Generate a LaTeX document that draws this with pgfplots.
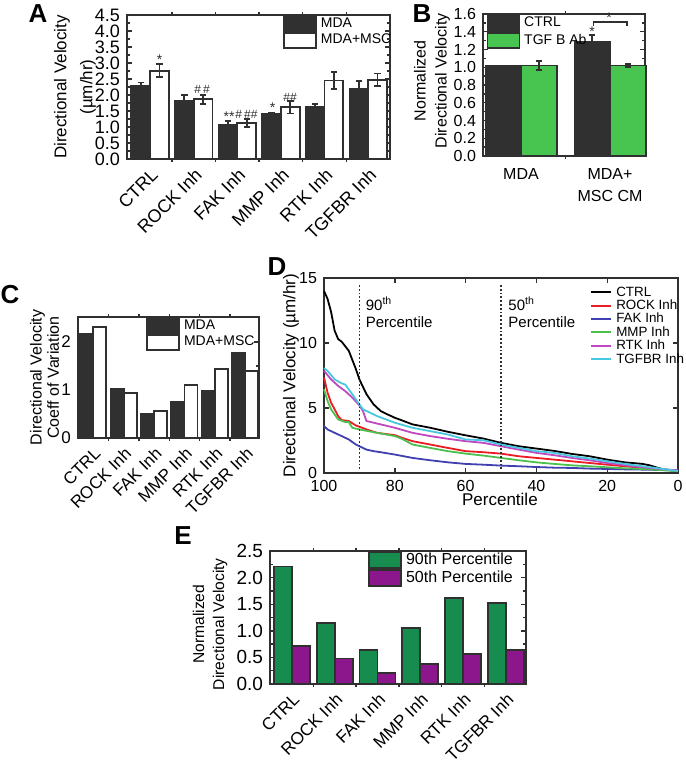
\documentclass[border=0pt]{standalone}
\usepackage{pgfplots}
\pgfplotsset{compat=1.18}
\usepackage{fontspec}
\setmainfont{Liberation Sans}
\newcommand{\fs}[1]{\fontsize{#1}{#1}\selectfont}
\newcommand{\fsl}[2]{\fontsize{#1}{#2}\selectfont}
\definecolor{dk}{RGB}{48,48,48}
\definecolor{bgreen}{RGB}{72,196,80}
\definecolor{egreen}{RGB}{22,140,78}
\definecolor{epurple}{RGB}{140,22,140}
\definecolor{rockred}{RGB}{236,28,36}
\definecolor{cblue}{RGB}{64,64,176}
\definecolor{cgreen}{RGB}{76,192,76}
\definecolor{cmag}{RGB}{192,72,192}
\definecolor{ccyan}{RGB}{72,200,224}
\pgfplotsset{
  base/.style={scale only axis, axis line style={line width=0.9pt, draw=dk},
    tick style={dk, line width=0.7pt}, major tick length=2.5pt, minor tick length=1.5pt,
    /pgf/number format/assume math mode=true, tick align=inside, clip=false},
  bars/.style={base, ybar, major x tick style=transparent, xtick={0,...,5},
    minor xtick={0.5,1.5,2.5,3.5,4.5},
    xticklabel style={rotate=45, anchor=north east, inner sep=1pt}},
  barleg/.style={legend image code/.code={\draw[##1] (0pt,-#1) rectangle (16pt,#1);}},
  onedec/.style={yticklabel style={/pgf/number format/fixed, /pgf/number format/fixed zerofill, /pgf/number format/precision=1}},
  ebar/.style={error bars/y dir=both, error bars/y explicit,
    error bars/error bar style={line width=0.9pt, draw=dk},
    error bars/error mark options={rotate=90, mark size=1.6pt, line width=0.9pt, draw=dk}},
}
\begin{document}
\begin{tikzpicture}
\path[use as bounding box] (0pt,0pt) rectangle (342.5pt,-382.5pt);
% panel labels
\node[font=\bfseries\fs{13}] at (19pt,-7pt) {A};
\node[font=\bfseries\fs{13}] at (211pt,-6.75pt) {B};
\node[font=\bfseries\fs{13}] at (5pt,-147.5pt) {C};
\node[font=\bfseries\fs{13}] at (138.5pt,-133.5pt) {D};
\node[font=\bfseries\fs{13}] at (91.5pt,-268pt) {E};

% ---------------- A
\begin{axis}[bars, onedec, at={(63.5pt,-79.5pt)}, anchor=south west,
  width=131.5pt, height=72pt, xmin=-0.53, xmax=5.5, ymin=0, ymax=4.5,
  ytick distance=0.5, minor y tick num=1,
  xticklabels={CTRL,ROCK Inh,FAK Inh,MMP Inh,RTK Inh,TGFBR Inh},
  tick label style={font=\fs{9}},
  ylabel={Directional Velocity\\(µm/hr)},
  ylabel style={at={(axis description cs:-0.198,0.5)}, anchor=center, align=center, font=\fsl{8.5}{13}},
  legend style={draw=none, fill=none, at={(axis description cs:0.593,1)}, anchor=north west,
    inner sep=0pt, row sep=0pt, column sep=1.5pt, nodes={inner sep=0.4pt, font=\fs{7}}},
  legend cell align=left]
\addplot[fill=dk, draw=dk, line width=0.9pt, bar width=0.43, bar shift=-0.215, barleg=3.75pt, ebar]
  coordinates {(0,2.29) +- (0,0.10) (1,1.81) +- (0,0.19) (2,1.08) +- (0,0.10) (3,1.40) +- (0,0.05) (4,1.63) +- (0,0.10) (5,2.18) +- (0,0.26)};
\addplot[fill=white, draw=dk, line width=0.9pt, bar width=0.43, bar shift=0.215, barleg=3.75pt, ebar]
  coordinates {(0,2.76) +- (0,0.20) (1,1.87) +- (0,0.14) (2,1.13) +- (0,0.13) (3,1.62) +- (0,0.20) (4,2.45) +- (0,0.27) (5,2.47) +- (0,0.20)};
\legend{MDA, MDA+MSC}
\node[font=\fs{7}, dk] at (axis cs:0.215,3.09) {*};
\node[font=\fs{6}, dk] at (axis cs:1.19,2.16) {\#\,\#};
\node[font=\fs{7}, dk] at (axis cs:1.81,1.31) {**};
\node[font=\fs{6}, dk] at (axis cs:2.21,1.40) {\#\,\#\#};
\node[font=\fs{7}, dk] at (axis cs:2.81,1.59) {*};
\node[font=\fs{6}, dk] at (axis cs:3.21,1.94) {\#\#};
\end{axis}

% ---------------- B
\begin{axis}[base, ybar, onedec, at={(241.5pt,-78pt)}, anchor=south west,
  width=81pt, height=71pt, xmin=-0.427, xmax=1.393, ymin=0, ymax=1.6,
  ytick distance=0.2, minor y tick num=1,
  major x tick style=transparent, xtick={0,1}, minor xtick={0.5},
  xticklabels={MDA,{MDA+\\MSC CM}},
  xticklabel style={align=center, font=\fsl{8}{11}},
  yticklabel style={font=\fs{8}},
  ylabel={Normalized\\Directional Velocity},
  ylabel style={at={(axis description cs:-0.315,0.53)}, anchor=center, align=center, font=\fsl{8}{10.5}},
  legend style={draw=none, fill=none, at={(axis description cs:0.02,1)}, anchor=north west,
    inner sep=0pt, row sep=0pt, column sep=1.5pt, nodes={inner sep=0.4pt, font=\fs{7}}},
  legend cell align=left]
\addplot[fill=dk, draw=dk, line width=0.9pt, bar width=0.40, bar shift=-0.2, barleg=3.9pt, ebar]
  coordinates {(0,1.01) +- (0,0.01) (1,1.28) +- (0,0.08)};
\addplot[fill=bgreen, draw=dk, line width=0.9pt, bar width=0.40, bar shift=0.2, barleg=3.9pt, ebar]
  coordinates {(0,1.02) +- (0,0.05) (1,1.02) +- (0,0.02)};
\legend{CTRL, TGF B Ab}
\draw[dk, line width=0.6pt] (axis cs:0.81,1.46) -- (axis cs:0.81,1.51) -- (axis cs:1.19,1.51) -- (axis cs:1.19,1.46);
\node[font=\fs{7}, dk] at (axis cs:0.99,1.56) {*};
\node[font=\fs{7}, dk] at (axis cs:0.80,1.40) {*};
\end{axis}

% ---------------- C
\begin{axis}[bars, at={(39pt,-219pt)}, anchor=south west,
  width=90.5pt, height=60.5pt, xmin=-0.5, xmax=5.45, ymin=0, ymax=2.52,
  ytick={0,1,2}, minor y tick num=1,
  xticklabels={CTRL,ROCK Inh,FAK Inh,MMP Inh,RTK Inh,TGFBR Inh},
  tick label style={font=\fs{8.5}},
  ylabel={Directional Velocity\\Coeff of Variation},
  ylabel style={at={(axis description cs:-0.185,0.5)}, anchor=center, align=center, font=\fsl{8}{8.7}},
  legend style={draw=none, fill=none, at={(axis description cs:0.376,1)}, anchor=north west,
    inner sep=0pt, row sep=0pt, column sep=1.5pt, nodes={inner sep=0.4pt, font=\fs{7}}},
  legend cell align=left]
\addplot[fill=dk, draw=dk, line width=0.9pt, bar width=0.43, bar shift=-0.215, barleg=3.75pt]
  coordinates {(0,2.16) (1,1.02) (2,0.50) (3,0.76) (4,0.98) (5,1.77)};
\addplot[fill=white, draw=dk, line width=0.9pt, bar width=0.43, bar shift=0.215, barleg=3.75pt]
  coordinates {(0,2.32) (1,0.93) (2,0.57) (3,1.10) (4,1.43) (5,1.39)};
\legend{MDA, MDA+MSC}
\end{axis}

% ---------------- D
\begin{axis}[base, at={(162pt,-236.5pt)}, anchor=south west,
  width=177pt, height=97.5pt, x dir=reverse, xmin=0, xmax=100, ymin=0, ymax=15,
  xtick={0,20,40,60,80,100}, ytick={0,5,10,15},
  tick label style={font=\fs{8}},
  xlabel={Percentile}, xlabel style={at={(axis description cs:0.497,-0.138)}, anchor=center, font=\fs{8.5}},
  ylabel={Directional Velocity (µm/hr)},
  ylabel style={at={(axis description cs:-0.093,0.5)}, anchor=center, font=\fs{8.5}},
  legend style={draw=none, fill=none, at={(axis description cs:0.751,0.964)}, anchor=north west,
    inner sep=0pt, row sep=0pt, column sep=1.5pt,
    nodes={inner sep=0.5pt, font=\fs{6.7}, text height=4.8pt, text depth=0.9pt}},
  legend cell align=left,
  legend image code/.code={\draw[#1, line width=1pt] (0pt,0pt) -- (10pt,0pt);},
  every axis plot/.append style={line width=0.9pt, mark=none}]
\addplot[draw=black] coordinates {(100,14.0)(99,13.4)(98,12.4)(97,10.95)(96,10.3)(95,10.1)(93,9.4)(91,8.0)(90,7.2)(88,6.06)(86,5.28)(84,4.77)(82,4.5)(80,4.25)(78,4.05)(75,3.74)(70,3.48)(65,3.17)(60,2.9)(55,2.65)(50,2.32)(45,2.06)(40,1.88)(35,1.7)(30,1.47)(25,1.29)(20,1.03)(15,0.82)(10,0.70)(8,0.59)(5,0.34)(2,0.2)(0,0.15)};
\addplot[draw=rockred, color=rockred] coordinates {(100,7.35)(99,6.19)(98,5.41)(97,4.9)(96,4.38)(95,4.07)(93,4.0)(91,3.66)(90,3.56)(88,3.35)(85,3.09)(80,2.91)(78,2.71)(75,2.45)(70,2.19)(65,1.93)(60,1.68)(55,1.6)(50,1.49)(45,1.29)(40,1.16)(35,1.03)(30,0.9)(25,0.77)(20,0.64)(15,0.52)(10,0.39)(5,0.26)(0,0.18)};
\addplot[draw=cblue] coordinates {(100,3.61)(99,3.35)(97,3.09)(95,2.84)(93,2.58)(91,2.19)(90,2.06)(88,1.8)(86,1.68)(84,1.6)(80,1.42)(75,1.16)(70,0.98)(65,0.82)(60,0.70)(55,0.64)(50,0.57)(45,0.52)(40,0.46)(35,0.41)(30,0.39)(25,0.34)(20,0.31)(15,0.28)(10,0.26)(5,0.23)(0,0.2)};
\addplot[draw=cgreen] coordinates {(100,6.44)(99,5.54)(98,4.9)(96,4.12)(94,3.92)(93,3.92)(92,3.48)(90,3.35)(85,3.09)(80,2.84)(78,2.63)(75,2.19)(70,1.93)(65,1.68)(60,1.49)(55,1.34)(50,1.16)(45,0.98)(40,0.82)(35,0.70)(30,0.59)(25,0.52)(20,0.44)(15,0.36)(10,0.31)(5,0.23)(0,0.15)};
\addplot[draw=cmag] coordinates {(100,7.86)(98,7.2)(96,6.7)(94,6.3)(92,5.8)(90,5.2)(89,4.77)(88,4.0)(86,3.87)(84,3.74)(80,3.48)(75,3.09)(70,2.84)(65,2.63)(60,2.45)(55,2.32)(50,2.06)(45,1.80)(40,1.55)(35,1.37)(30,1.16)(25,0.98)(20,0.77)(15,0.59)(10,0.44)(5,0.31)(0,0.2)};
\addplot[draw=ccyan] coordinates {(100,8.07)(99,7.86)(97,7.2)(95,6.9)(94,6.8)(92,6.06)(90,5.28)(89,4.9)(87,4.64)(85,4.38)(82,4.07)(80,3.87)(75,3.48)(70,3.22)(65,2.96)(60,2.58)(55,2.52)(50,2.19)(45,1.93)(40,1.68)(35,1.55)(30,1.29)(25,1.11)(20,0.9)(15,0.7)(10,0.52)(5,0.34)(0,0.15)};
\legend{CTRL, ROCK Inh, FAK Inh, MMP Inh, RTK Inh, TGFBR Inh}
\addplot[draw=dk, densely dotted, line width=0.7pt, forget plot] coordinates {(90,0.3) (90,14.6)};
\addplot[draw=dk, densely dotted, line width=0.7pt, forget plot] coordinates {(50,0.3) (50,14.6)};
\node[anchor=north west, align=left, inner sep=0pt, font=\fsl{7.5}{8.5}] at (axis cs:88.3,13.6) {90\textsuperscript{th}\\Percentile};
\node[anchor=north west, align=left, inner sep=0pt, font=\fsl{7.5}{8.5}] at (axis cs:48.0,13.6) {50\textsuperscript{th}\\Percentile};
\end{axis}

% ---------------- E
\begin{axis}[bars, onedec, at={(135pt,-342pt)}, anchor=south west,
  width=128pt, height=66.5pt, xmin=-0.514, xmax=5.47, ymin=0, ymax=2.5,
  ytick distance=0.5, minor y tick num=1,
  xticklabels={CTRL,ROCK Inh,FAK Inh,MMP Inh,RTK Inh,TGFBR Inh},
  yticklabel style={font=\fs{9.5}},
  xticklabel style={font=\fs{8.6}},
  ylabel={Normalized\\Directional Velocity},
  ylabel style={at={(axis description cs:-0.234,0.45)}, anchor=center, align=center, font=\fsl{7.8}{10}},
  legend style={draw=none, fill=none, at={(axis description cs:0.383,1)}, anchor=north west,
    inner sep=0pt, row sep=0pt, column sep=1.5pt, nodes={inner sep=0.4pt, font=\fs{8}}},
  legend cell align=left]
\addplot[fill=egreen, draw=dk, line width=0.9pt, bar width=0.42, bar shift=-0.21, barleg=4pt]
  coordinates {(0,2.21) (1,1.15) (2,0.64) (3,1.06) (4,1.61) (5,1.53)};
\addplot[fill=epurple, draw=dk, line width=0.9pt, bar width=0.42, bar shift=0.21, barleg=4pt]
  coordinates {(0,0.72) (1,0.48) (2,0.21) (3,0.37) (4,0.56) (5,0.64)};
\legend{90th Percentile, 50th Percentile}
\end{axis}
\end{tikzpicture}
\end{document}
